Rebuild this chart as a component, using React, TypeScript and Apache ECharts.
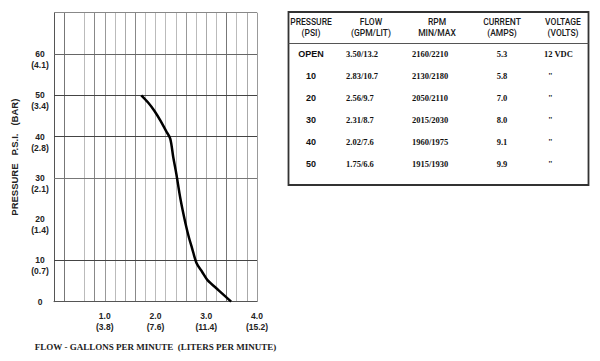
import React, { useEffect, useRef } from "react";
import * as echarts from "echarts";

// Pump curve (flow in GPM, pressure in PSI)
const curveFlow = [1.72, 1.85, 1.98, 2.1, 2.21, 2.29, 2.35, 2.41, 2.49, 2.59, 2.66, 2.72, 2.81, 2.92, 3.02, 3.25, 3.49];
const curvePsi = [50, 48.3, 46.2, 43.8, 41.3, 39.5, 35, 31, 25, 19, 15.5, 13, 9.3, 7.2, 5.3, 2.7, 0];

// Axis tick labels
const psiTicks = [0, 10, 20, 30, 40, 50, 60];
const barTicks = ["", "0.7", "1.4", "2.1", "2.8", "3.4", "4.1"];
const gpmTicks = [1, 2, 3, 4];
const lpmTicks = ["3.8", "7.6", "11.4", "15.2"];
// Horizontal grid lines drawn in the original (no line at 20 psi)
const gridPsi = [10, 30, 40, 50, 60, 70];

// Table
const tableHeaders1 = ["PRESSURE", "FLOW", "RPM", "CURRENT", "VOLTAGE"];
const tableHeaders2 = ["(PSI)", "(GPM/LIT)", "MIN/MAX", "(AMPS)", "(VOLTS)"];
const tablePressure = ["OPEN", "10", "20", "30", "40", "50"];
const tableFlow = ["3.50/13.2", "2.83/10.7", "2.56/9.7", "2.31/8.7", "2.02/7.6", "1.75/6.6"];
const tableRpm = ["2160/2210", "2130/2180", "2050/2110", "2015/2030", "1960/1975", "1915/1930"];
const tableCurrent = ["5.3", "5.8", "7.0", "8.0", "9.1", "9.9"];
const tableVoltage = ["12 VDC", "\"", "\"", "\"", "\"", "\""];

const SANS = "'Liberation Sans', 'DejaVu Sans', sans-serif";
const HEAD = "Roboto, 'DejaVu Sans Condensed', sans-serif";
const SERIF = "'Liberation Serif', 'DejaVu Serif', serif";

export default function App() {
  const ref = useRef<HTMLDivElement>(null);
  useEffect(() => {
    if (!ref.current) return;
    const chart = echarts.init(ref.current, null, { renderer: "svg" });

    const vColors = [
      "#666", "#777", "rgba(0,0,0,0)", "#bbb", "#888", "#999", "#bbb", "#aaa", "#888", "#bbb",
      "#bbb", "#bbb", "#bbb", "#999", "#bbb", "#aaa", "#bbb", "#777", "#bbb", "#aaa", "#999",
    ];
    const hColors: Record<number, string> = { 10: "#444", 30: "#777", 40: "#444", 50: "#444", 60: "#666", 70: "#888" };

    const headerX = [311, 371, 437, 502, 563];
    const rowY = [54, 76, 98, 120, 142, 164];
    const graphics: any[] = [
      {
        type: "rect",
        shape: { x: 288.5, y: 12, width: 300, height: 173 },
        style: { fill: "none", stroke: "#333", lineWidth: 1.8 },
      },
      {
        type: "line",
        shape: { x1: 288.5, y1: 43.5, x2: 588.5, y2: 43.5 },
        style: { stroke: "#555", lineWidth: 1 },
      },
    ];
    tableHeaders1.forEach((h, i) => {
      graphics.push({
        type: "text",
        x: headerX[i],
        y: 22,
        style: { text: h, font: `500 8.5px ${HEAD}`, fill: "#1a1a1a", align: "center", verticalAlign: "middle" },
      });
      graphics.push({
        type: "text",
        x: headerX[i],
        y: 33,
        style: { text: tableHeaders2[i], font: `500 8.5px ${HEAD}`, fill: "#1a1a1a", align: "center", verticalAlign: "middle" },
      });
    });
    tablePressure.forEach((p, r) => {
      const y = rowY[r];
      graphics.push({
        type: "text", x: 311, y,
        style: { text: p, font: `bold 9px ${SANS}`, fill: "#111", align: "center", verticalAlign: "middle" },
      });
      graphics.push({
        type: "text", x: 346, y,
        style: { text: tableFlow[r], font: `bold 8.5px ${SERIF}`, fill: "#111", align: "left", verticalAlign: "middle" },
      });
      graphics.push({
        type: "text", x: 412, y,
        style: { text: tableRpm[r], font: `bold 8.5px ${SERIF}`, fill: "#111", align: "left", verticalAlign: "middle" },
      });
      graphics.push({
        type: "text", x: 502, y,
        style: { text: tableCurrent[r], font: `bold 8.5px ${SERIF}`, fill: "#111", align: "center", verticalAlign: "middle" },
      });
      graphics.push({
        type: "text", x: r === 0 ? 544 : 548, y,
        style: { text: tableVoltage[r], font: `bold 8.5px ${SERIF}`, fill: "#111", align: "left", verticalAlign: "middle" },
      });
    });

    chart.setOption({
      animation: false,
      backgroundColor: "#fff",
      grid: { left: 54, right: 343, top: 12.7, bottom: 59.3, containLabel: false },
      xAxis: {
        type: "value",
        min: 0,
        max: 4,
        interval: 0.2,
        name: "FLOW - GALLONS PER MINUTE  (LITERS PER MINUTE)",
        nameLocation: "middle",
        nameGap: 41,
        nameTextStyle: { fontFamily: SERIF, fontWeight: "bold", fontSize: 9, color: "#222" },
        axisLine: { show: true, lineStyle: { color: "#555", width: 1 } },
        axisTick: { show: false },
        axisLabel: {
          fontFamily: SANS,
          fontSize: 8.5,
          fontWeight: "bold",
          lineHeight: 11,
          color: "#222",
          margin: 9,
          showMinLabel: true,
          showMaxLabel: true,
          formatter: (v: number) => {
            const idx = gpmTicks.findIndex((t) => Math.abs(t - v) < 1e-6);
            if (idx < 0) return "";
            return `${gpmTicks[idx].toFixed(1)}\n(${lpmTicks[idx]})`;
          },
        },
        splitLine: { show: true, lineStyle: { color: vColors, width: 1 } },
      },
      yAxis: {
        type: "value",
        min: 0,
        max: 70,
        interval: 10,
        name: "PRESSURE   P.S.I.   (BAR)",
        nameLocation: "middle",
        nameGap: 35,
        nameRotate: 90,
        nameTextStyle: { fontFamily: SANS, fontWeight: "bold", fontSize: 9.5, color: "#222" },
        axisLine: { show: true, lineStyle: { color: "#555", width: 1 } },
        axisTick: { show: false },
        axisLabel: {
          fontFamily: SANS,
          fontSize: 8.5,
          fontWeight: "bold",
          lineHeight: 11,
          color: "#222",
          align: "center",
          margin: 14,
          formatter: (v: number) => {
            const idx = psiTicks.findIndex((t) => Math.abs(t - v) < 1e-6);
            if (idx < 0) return "";
            if (idx === 0) return "0";
            return ` \n${psiTicks[idx]}\n(${barTicks[idx]})`;
          },
        },
        splitLine: { show: false },
      },
      series: [
        {
          type: "line",
          data: curveFlow.map((f, i) => [f, curvePsi[i]]),
          showSymbol: false,
          smooth: 0.3,
          lineStyle: { color: "#000", width: 2.5 },
          z: 5,
          markLine: {
            silent: true,
            symbol: "none",
            label: { show: false },
            animation: false,
            data: gridPsi.map((p) => ({ yAxis: p, lineStyle: { color: hColors[p], width: 1, type: "solid" } })),
          },
        },
      ],
      graphic: graphics,
    });
    return () => chart.dispose();
  }, []);
  return (
    <div
      ref={ref}
      style={{ position: "fixed", left: 0, top: 0, width: 600, height: 361, background: "#fff" }}
    />
  );
}
